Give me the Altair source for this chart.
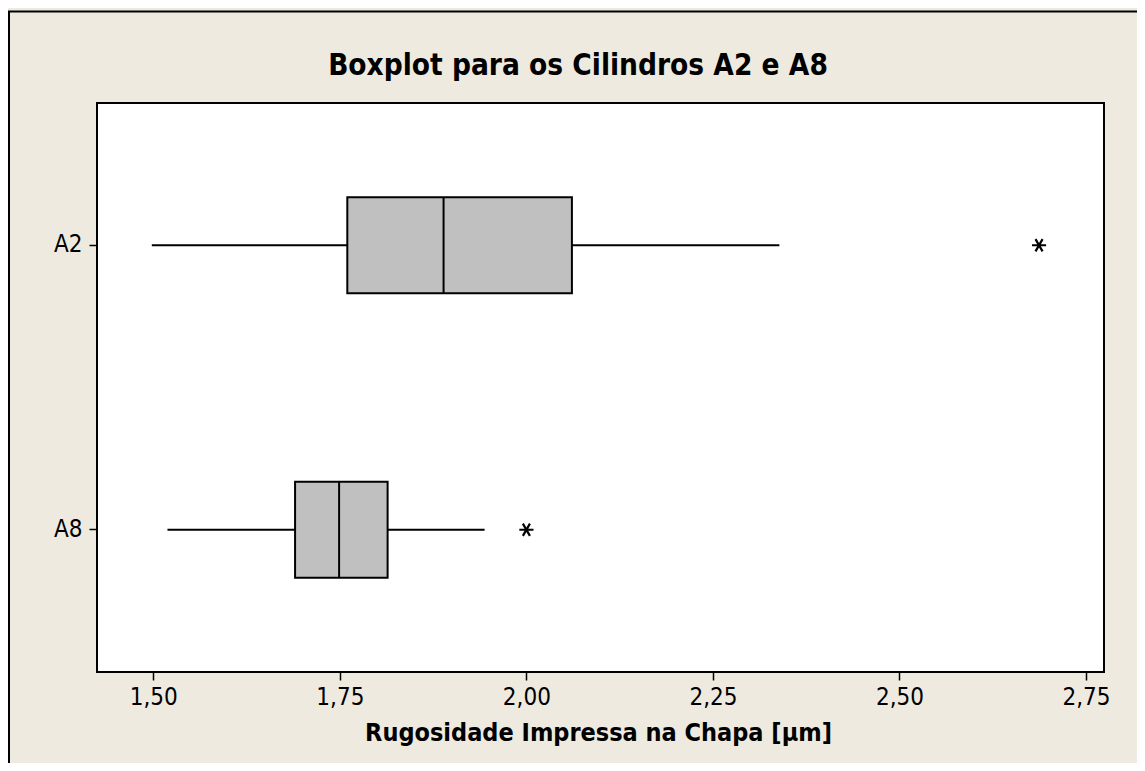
import altair as alt
import pandas as pd

# ---- data ----
categories = ["A2", "A8"]
whisker_low = [1.498, 1.519]
q1 = [1.760, 1.690]
median = [1.889, 1.749]
q3 = [2.061, 1.814]
whisker_high = [2.339, 1.944]

outlier_cat = ["A2", "A8"]
outlier_val = [2.687, 2.000]

x_ticks = [1.50, 1.75, 2.00, 2.25, 2.50, 2.75]

TITLE = "Boxplot para os Cilindros A2 e A8"
XTITLE = "Rugosidade Impressa na Chapa [μm]"

FONT = "DejaVu Sans Condensed, Noto Sans, DejaVu Sans, sans-serif"
BEIGE = "#EEEAE0"

box_df = pd.DataFrame({
    "cil": categories, "lo": whisker_low, "q1": q1,
    "med": median, "q3": q3, "hi": whisker_high,
})
out_df = pd.DataFrame({"cil": outlier_cat, "val": outlier_val})
frame_df = pd.DataFrame({"t": [TITLE]})

x_scale = alt.Scale(domain=[1.42455, 2.77406], nice=False, zero=False)
x_axis = alt.Axis(
    values=x_ticks,
    labelExpr="replace(format(datum.value, '.2f'), '.', ',')",
    grid=False, domain=False,
    tickColor="black", tickSize=8, tickWidth=1.5,
    labelFont=FONT, labelFontSize=24, labelColor="black", labelPadding=5,
    titleFont=FONT, titleFontSize=25, titleFontWeight="bold", titleColor="black",
    titleY=68, titleBaseline="alphabetic", titleX=501,
)
y_scale = alt.Scale(domain=categories, paddingInner=0, paddingOuter=0)
y_axis = alt.Axis(
    grid=False, domain=False,
    tickColor="black", tickSize=8, tickWidth=1.5,
    labelFont=FONT, labelFontSize=24, labelColor="black", labelPadding=7,
)


def xenc(field):
    return alt.X(f"{field}:Q", scale=x_scale, axis=x_axis, title=XTITLE)


def yenc():
    return alt.Y("cil:N", scale=y_scale, axis=y_axis, title=None)


frame = alt.Chart(frame_df).mark_rect(
    fill="transparent", stroke="black", strokeWidth=2
).encode(
    x=alt.value(-88), x2=alt.value(1100),
    y=alt.value(-91.5), y2=alt.value(700),
)

title = alt.Chart(frame_df).mark_text(
    font=FONT, fontSize=29.5, fontWeight="bold", color="black",
    align="center", baseline="alphabetic",
).encode(x=alt.value(481), y=alt.value(-28.5), text="t:N")

whisk = alt.Chart(box_df).mark_rule(color="black", strokeWidth=2).encode(
    x=xenc("lo"), x2="hi", y=yenc()
)
box = alt.Chart(box_df).mark_bar(
    size=96, fill="#C0C0C0", stroke="black", strokeWidth=2
).encode(x=xenc("q1"), x2="q3", y=yenc())
med = alt.Chart(box_df).mark_tick(
    size=96, thickness=2, color="black", opacity=1
).encode(x=xenc("med"), y=yenc())

star = "M-1,0L1,0M-0.5,-0.866L0.5,0.866M0.5,-0.866L-0.5,0.866"
outl = alt.Chart(out_df).mark_point(
    shape=star, size=200, filled=False, stroke="black", strokeWidth=2.2, opacity=1
).encode(x=xenc("val"), y=yenc())

chart = alt.layer(frame, title, whisk, box, med, outl).properties(
    width=1007, height=569,
    padding={"left": 89, "top": 95, "right": 33, "bottom": 91},
    autosize=alt.AutoSizeParams(type="none"),
    background=BEIGE,
).configure_view(
    stroke="black", strokeWidth=2, fill="white"
)

chart.save("out.html", embed_options={"renderer": "svg", "actions": False})
